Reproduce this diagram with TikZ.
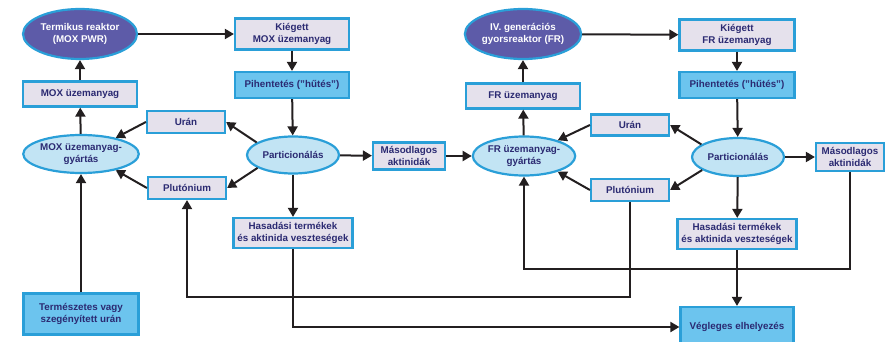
\documentclass[tikz,border=0pt]{standalone}
\usepackage{fontspec}
\setmainfont{Liberation Sans}
\usetikzlibrary{shapes.geometric,arrows.meta}

\definecolor{txtblue}{HTML}{2B2A72}
\definecolor{edgeblue}{HTML}{2A9FD8}
\definecolor{lavfill}{HTML}{E5E1EC}
\definecolor{skyfill}{HTML}{6CC4EE}
\definecolor{palefill}{HTML}{C2E4F4}
\definecolor{darkfill}{HTML}{5D5BA8}
\definecolor{arrowblack}{HTML}{231F20}

\begin{document}
\begin{tikzpicture}[x=1pt,y=-1pt,
  font=\bfseries\fontsize{9.8}{12.5}\selectfont,
  box/.style={draw=edgeblue,line width=2.2pt,fill=lavfill,text=txtblue,align=center,inner sep=0pt},
  coolbox/.style={box,fill=skyfill},
  oval/.style={ellipse,draw=edgeblue,line width=2.2pt,fill=palefill,text=txtblue,align=center,inner sep=0pt},
  reactor/.style={oval,fill=darkfill,text=white},
  flow/.style={draw=arrowblack,line width=2pt,-{Triangle[length=9pt,width=10pt]}},
  plain/.style={draw=arrowblack,line width=2pt}]
\useasboundingbox (0,0) rectangle (888,342);

% MOX loop
\node[reactor,minimum width=114pt,minimum height=50pt] (tmox) at (80,34) {Termikus reaktor\\(MOX PWR)};
\node[box,minimum width=114pt,minimum height=31pt] (kmox) at (292,34) {Kiégett\\MOX üzemanyag};
\node[coolbox,minimum width=114pt,minimum height=26pt] (pmox) at (292,85) {Pihentetés ("hűtés")};
\node[box,minimum width=114pt,minimum height=25pt] (fmox) at (80,94) {MOX üzemanyag};
\node[box,minimum width=78pt,minimum height=22pt] (ul) at (186,122) {Urán};
\node[oval,minimum width=92pt,minimum height=38pt] (gymox) at (81,154) {MOX üzemanyag-\\gyártás};
\node[oval,minimum width=92pt,minimum height=37pt] (partl) at (293,155) {Particionálás};
\node[box,minimum width=72pt,minimum height=27pt] (mal) at (409,156) {Másodlagos\\aktinidák};
\node[box,minimum width=78pt,minimum height=22pt] (pul) at (187,188) {Plutónium};
\node[box,minimum width=119pt,minimum height=30pt] (hasl) at (293,233) {Hasadási termékek\\és aktinida veszteségek};
\node[coolbox,minimum width=115pt,minimum height=41pt] (term) at (81,314) {Természetes vagy\\szegényített urán};

% FR loop
\node[reactor,minimum width=114pt,minimum height=50pt] (fr) at (523,34) {IV. generációs\\gyorsreaktor (FR)};
\node[box,minimum width=115pt,minimum height=31pt] (kfr) at (737,35) {Kiégett\\FR üzemanyag};
\node[coolbox,minimum width=115pt,minimum height=26pt] (pfr) at (737,85) {Pihentetés ("hűtés")};
\node[box,minimum width=114pt,minimum height=25pt] (ffr) at (523,96) {FR üzemanyag};
\node[box,minimum width=78pt,minimum height=21pt] (ur) at (630,125) {Urán};
\node[oval,minimum width=92pt,minimum height=39pt] (gyfr) at (524,156) {FR üzemanyag-\\gyártás};
\node[oval,minimum width=92pt,minimum height=38pt] (partr) at (738,157) {Particionálás};
\node[box,minimum width=68pt,minimum height=28pt] (mar) at (850,157) {Másodlagos\\aktinidák};
\node[box,minimum width=78pt,minimum height=22pt] (pur) at (630,190) {Plutónium};
\node[box,minimum width=119pt,minimum height=30pt] (hasr) at (737,234) {Hasadási termékek\\és aktinida veszteségek};
\node[coolbox,minimum width=113pt,minimum height=40pt] (veg) at (737,327) {Végleges elhelyezés};

% arrows, left
\draw[flow] (tmox) -- (kmox);
\draw[flow] (kmox) -- (pmox);
\draw[flow] (pmox) -- (partl);
\draw[flow] (partl.161) -- (ul.east);
\draw[flow] (partl.200) -- (pul.east);
\draw[flow] (ul.west) -- (gymox.25);
\draw[flow] (pul.west) -- (gymox.335);
\draw[flow] (gymox) -- (fmox);
\draw[flow] (fmox) -- (tmox);
\draw[flow] (partl) -- (mal);
\draw[flow] (partl) -- (hasl);
\draw[flow] (term) -- (gymox);
\draw[flow] (mal.east) -- (gyfr.west);

% arrows, right
\draw[flow] (fr) -- (kfr);
\draw[flow] (kfr) -- (pfr);
\draw[flow] (pfr) -- (partr);
\draw[flow] (partr.161) -- (ur.east);
\draw[flow] (partr.200) -- (pur.east);
\draw[flow] (ur.west) -- (gyfr.25);
\draw[flow] (pur.west) -- (gyfr.335);
\draw[flow] (gyfr) -- (ffr);
\draw[flow] (ffr) -- (fr);
\draw[flow] (partr) -- (mar);
\draw[flow] (partr) -- (hasr);
\draw[flow] (hasr) -- (veg);

% long returns
\draw[flow] (hasl.south) |- (veg.west);
\draw[flow] (pur.south) -- (pur.south |- 0,297) -| (pul.south);
\draw[flow] (mar.south) -- (mar.south |- 0,269) -| (gyfr.south);
\end{tikzpicture}
\end{document}
